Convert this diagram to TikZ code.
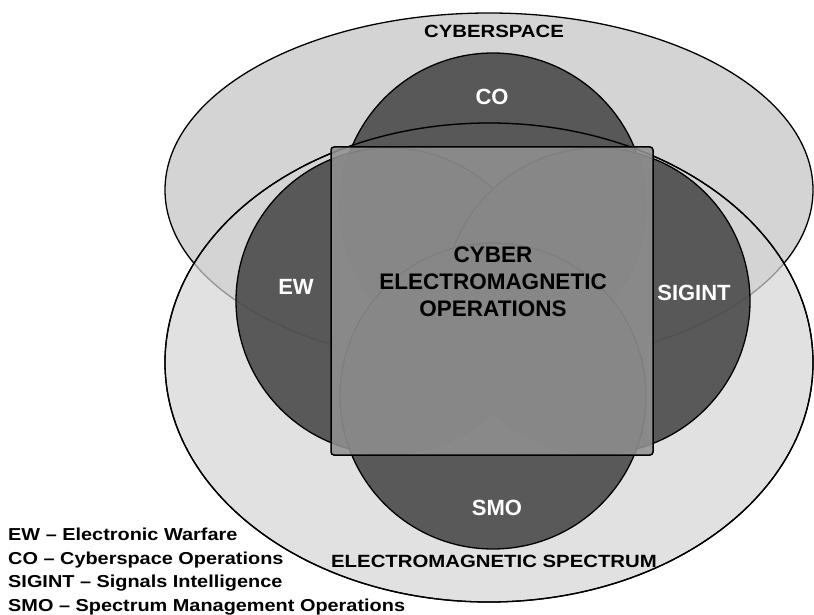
\documentclass[tikz,border=0pt]{standalone}
\usepackage{fontspec}
\setmainfont{Liberation Sans}
\newfontfamily\widesans[FakeStretch=1.15]{Liberation Sans}
\usetikzlibrary{positioning}

\definecolor{spacegray}{gray}{0.83}
\definecolor{opgray}{gray}{0.28}
\definecolor{boxgray}{gray}{0.567}

\begin{document}
\begin{tikzpicture}[x=1pt, y=-1pt, spacefield/.style={fill=spacegray, draw=black, line width=1.3pt}, opcircle/.style={fill=opgray, fill opacity=0.88, draw=black, line width=1.3pt}, opname/.style={text=white, font=\fontsize{22}{26}\selectfont\bfseries}, areaname/.style={font=\widesans\fontsize{17.7}{21}\selectfont\bfseries}, legend/.style={anchor=base west, inner sep=0pt, font=\widesans\fontsize{17.3}{21}\selectfont\bfseries}]
	\useasboundingbox (0,0) rectangle (814,615);

	% Domains
	\filldraw[spacefield] (489,190) ellipse [x radius=324, y radius=177];
	\filldraw[spacefield, fill opacity=0.7] (489,362.5) ellipse [x radius=324, y radius=239.5];

	% Operations
	\foreach \cx/\cy in {493/206, 389/301, 597/301, 493/396}
		\filldraw[opcircle] (\cx,\cy) circle [radius=153];
	\draw[line width=1.3pt] (489,362.5) ellipse [x radius=324, y radius=239.5];

	% Overlap
	\filldraw[fill=boxgray, fill opacity=0.875, draw=black, line width=1.5pt, rounded corners=3pt] (331,147) rectangle (653,455);

	% Labels
	\node[areaname] (cyberspace) at (494,31.5) {CYBERSPACE};
	\node[areaname] (spectrum) at (494,561) {ELECTROMAGNETIC SPECTRUM};
	\node[opname] (co) at (492,97) {CO};
	\node[opname] (ew) at (296,287) {EW};
	\node[opname] (sigint) at (694,293) {SIGINT};
	\node[opname] (smo) at (497,508) {SMO};
	\node[align=center, font=\fontsize{22.5}{27}\selectfont\bfseries] (cemo) at (493,282) {CYBER\\ELECTROMAGNETIC\\OPERATIONS};

	% Legend
	\node[legend] (leg1) at (8,540.5) {EW – Electronic Warfare};
	\node[legend] (leg2) at (8,564) {CO – Cyberspace Operations};
	\node[legend] (leg3) at (8,587.5) {SIGINT – Signals Intelligence};
	\node[legend] (leg4) at (8,611) {SMO – Spectrum Management Operations};
\end{tikzpicture}
\end{document}
